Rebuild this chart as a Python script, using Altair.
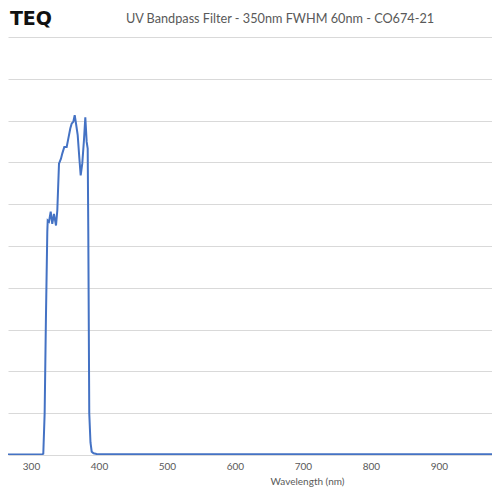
import altair as alt
import pandas as pd

# Transmission curve (% vs nm)
wavelength = [250, 300, 316, 318.1, 320.1, 322, 324, 324.6, 326.5, 329, 331.3, 333.8,
              336.8, 338.7, 341.2, 344.1, 346, 349, 352.5, 354.9, 357.8, 359.9, 362.2,
              364.3, 366.2, 368.7, 371, 373.1, 375.4, 377.9, 379.9, 381.9, 383.4, 384.3,
              385.7, 387.5, 389.3, 392, 396.6, 450, 500, 600, 700, 800, 900, 1000]
transmission = [0.1, 0.1, 0.1, 0.3, 10, 33, 53.4, 56.1, 55.8, 58.2, 55.3, 57.7,
                54.9, 58.5, 69.7, 70.9, 72.1, 73.7, 73.7, 75.7, 78.1, 79.3, 79.7,
                81.3, 79.3, 76.5, 71.3, 66.9, 69.7, 75.3, 80.8, 74.9, 73.3, 52.9,
                10, 3, 0.8, 0.4, 0.25, 0.2, 0.2, 0.2, 0.2, 0.2, 0.2, 0.2]
x_ticks = [300, 400, 500, 600, 700, 800, 900]
y_grid = [0, 10, 20, 30, 40, 50, 60, 70, 80, 90, 100]

title_text = "UV Bandpass Filter - 350nm FWHM 60nm - CO674-21"
logo_text = "TEQ"

df = pd.DataFrame({"Wavelength": wavelength, "Transmission": transmission})

FONT = "Lato"
GREY = "#595959"

line = alt.Chart(df).mark_line(color="#4472C4", strokeWidth=2, clip=True).encode(
    x=alt.X(
        "Wavelength:Q",
        scale=alt.Scale(domain=[266.2, 978], nice=False, zero=False),
        axis=alt.Axis(
            values=x_ticks, title="Wavelength (nm)", grid=False, ticks=False, domain=False,
            labelColor=GREY, labelFontSize=10, labelFont=FONT, labelPadding=6,
            titleColor=GREY, titleFontSize=10, titleFont=FONT, titleFontWeight="normal",
            titleX=299, titlePadding=5,
        ),
    ),
    y=alt.Y(
        "Transmission:Q",
        scale=alt.Scale(domain=[0, 100], nice=False),
        axis=alt.Axis(values=y_grid, labels=False, ticks=False, domain=False, title=None,
                      gridColor="#d9d9d9", gridWidth=1),
    ),
)

title = alt.Chart(pd.DataFrame({"t": [title_text]})).mark_text(
    font=FONT, fontSize=12.7, color=GREY, align="center", baseline="middle"
).encode(x=alt.value(272), y=alt.value(-18), text="t:N")

logo = alt.Chart(pd.DataFrame({"t": [logo_text]})).mark_text(
    font="DejaVu Sans", fontSize=19, fontWeight="bold", color="#111111",
    align="right", baseline="middle"
).encode(x=alt.value(44), y=alt.value(-18), text="t:N")

chart = alt.layer(line, title, logo).properties(
    width=484, height=418,
    autosize=alt.AutoSizeParams(type="none"),
    padding={"left": 0, "top": 29, "right": 0, "bottom": 37},
).configure_view(stroke=None)

chart.save("out.html", embed_options={"renderer": "svg", "actions": False})
